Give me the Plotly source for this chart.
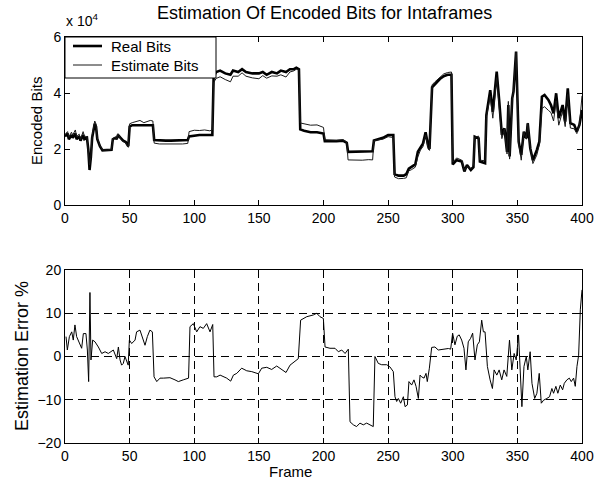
import plotly.graph_objects as go

# ---------------- data ----------------
frames_top = [0, 2, 3, 5, 6, 8, 9, 11, 12, 14, 15, 17, 18, 19, 20, 21, 23, 24, 25, 27, 29, 33, 36, 37, 39, 40,
              41, 43, 45, 47, 49, 50, 52, 55, 58, 61, 64, 66, 68, 69, 73, 78, 82, 86, 91, 95, 96, 100, 104, 108,
              112, 114, 115, 117, 120, 124, 128, 130, 134, 137, 140, 145, 150, 153, 156, 160, 164, 167, 171, 174,
              177, 179, 181, 182, 185, 190, 195, 200, 201, 205, 210, 215, 218, 219, 225, 230, 235, 238, 239, 242,
              246, 250, 254, 255, 258, 262, 264, 266, 268, 271, 273, 275, 277, 279, 281, 282, 284, 286, 288, 290,
              293, 296, 299, 300, 303, 307, 309, 311, 314, 316, 317, 320, 321, 325, 326, 329, 331, 334, 336, 338,
              340, 342, 343, 344, 346, 347, 349, 351, 353, 355, 357, 358, 360, 362, 365, 367, 369, 371, 374, 376,
              378, 380, 382, 385, 387, 389, 391, 394, 396, 398, 400]

real_bits = [24500, 25500, 23500, 25000, 24000, 25500, 23500, 24500, 23000, 25000, 23500, 24000, 20000, 12500,
             17000, 24000, 29000, 28000, 23500, 21000, 19500, 19500, 19700, 23500, 24000, 23500, 25000, 24000,
             23000, 22500, 21000, 28000, 28500, 28500, 28500, 28500, 28500, 28500, 28500, 23200, 23000, 23000,
             23000, 23000, 23000, 23200, 24500, 24800, 25000, 25000, 25000, 25000, 46000, 47500, 48000, 47000,
             46500, 48000, 47500, 48500, 47500, 47000, 47000, 47500, 46500, 47500, 47000, 48000, 47500, 48500,
             48500, 49000, 48500, 27000, 26500, 26000, 26000, 25500, 22800, 22700, 22800, 23000, 22200, 19000,
             19000, 19000, 19200, 19200, 23000, 23500, 24000, 25000, 25000, 11000, 10500, 10500, 11000, 13000,
             13500, 14500, 19000, 20500, 22000, 26000, 21000, 20000, 42000, 43000, 44000, 45000, 46000, 46500,
             46500, 14500, 16000, 15500, 12000, 14300, 12500, 13500, 24400, 23800, 15500, 14900, 32100, 41000,
             33300, 47600, 36900, 25000, 27400, 19000, 35700, 17300, 38100, 40500, 54800, 22600, 17900, 26200,
             23800, 29200, 20200, 16000, 19600, 22600, 38700, 39300, 37500, 35700, 32700, 39900, 31000, 35700,
             29800, 41700, 29200, 28600, 26200, 28600, 33900]

est_bits = [25200, 26200, 24200, 26000, 25000, 26800, 24500, 25300, 23400, 26200, 24600, 24400, 19000, 14300,
            17000, 24800, 30000, 28900, 24000, 21300, 19700, 19600, 19900, 23800, 24200, 23400, 25500, 23600,
            22700, 22200, 20600, 29000, 29400, 29800, 30200, 29400, 29800, 30200, 30000, 22100, 21800, 21800,
            21900, 21700, 21800, 22000, 26200, 26700, 26600, 26800, 26500, 26800, 43800, 45200, 45800, 44800,
            44000, 46000, 46000, 47200, 46000, 45400, 45100, 46200, 45300, 46100, 46000, 46500, 45700, 47500,
            47900, 48500, 48200, 29300, 28900, 28500, 28600, 27700, 23300, 23100, 23100, 23300, 22500, 16100,
            15900, 16000, 16200, 16100, 23000, 23100, 23500, 24400, 24100, 10000, 9400, 9500, 9700, 12200,
            12600, 13500, 17200, 19600, 20900, 25000, 20000, 19500, 42900, 43900, 44700, 45700, 46800, 47300,
            47500, 15300, 16800, 16000, 12300, 13800, 13000, 14200, 24200, 24600, 16000, 15800, 31300, 38800,
            31000, 45500, 35500, 23700, 27200, 18200, 37000, 16400, 37800, 40500, 54500, 22000, 16000, 26000,
            23500, 29300, 20500, 14800, 17800, 21500, 34500, 35100, 33800, 33000, 30000, 37200, 28500, 33500,
            28000, 39500, 27500, 27200, 25500, 28500, 39000]

frames_err = [0.8, 1.8, 3.4, 5.2, 6.4, 7.7, 9.0, 11.6, 12.9, 14.2, 16.2, 17.3, 18.3, 19.3, 20.1, 21.4, 23.2,
              25.8, 27.1, 28.4, 31.0, 33.5, 37.4, 40.0, 41.3, 42.6, 43.8, 45.1, 46.4, 47.7, 48.9, 49.8, 51.6,
              54.2, 55.4, 58.0, 60.6, 61.9, 63.7, 65.7, 67.6, 68.9, 71.0, 73.5, 76.1, 78.7, 81.2, 85.1, 87.7,
              91.5, 95.6, 96.7, 99.3, 101.9, 104.4, 107.0, 109.6, 112.2, 114.3, 115.3, 117.4, 120.0, 122.5,
              125.1, 128.2, 130.3, 132.9, 136.7, 140.6, 144.5, 149.6, 152.2, 156.1, 159.9, 163.8, 167.6, 171.0,
              174.1, 178.0, 180.5, 182.3, 187.0, 192.1, 194.7, 197.3, 199.9, 201.2, 205.0, 208.9, 211.5, 214.1,
              216.7, 219.2, 220.5, 223.1, 225.6, 228.2, 230.8, 233.4, 236.0, 238.5, 239.8, 242.4, 245.0, 248.9,
              251.4, 254.0, 255.3, 256.6, 257.9, 259.7, 261.8, 263.1, 264.9, 266.1, 268.2, 270.0, 271.6, 273.4,
              274.7, 275.9, 277.8, 279.3, 280.3, 281.9, 283.7, 286.2, 288.8, 292.7, 296.6, 298.4, 299.9, 301.7,
              303.5, 305.0, 306.9, 308.7, 310.2, 312.0, 313.8, 315.4, 317.2, 319.0, 320.6, 322.4, 323.7, 325.0,
              326.8, 328.9, 330.7, 332.0, 334.1, 335.9, 337.9, 339.7, 341.8, 343.9, 345.7, 347.5, 349.1, 350.9,
              352.2, 353.5, 355.1, 356.9, 358.1, 359.9, 361.3, 363.4, 365.1, 366.9, 368.5, 370.3, 372.8, 374.9,
              376.7, 378.0, 379.8, 381.3, 383.2, 385.0, 386.3, 388.3, 390.2, 391.7, 393.5, 394.8, 396.1, 397.4,
              398.7, 400.0]

error_pct = [4.6, 1.5, 4.6, 5.7, 3.8, 7.3, 4.6, 3.0, 1.9, 5.3, 5.3, 1.5, -5.8, 14.8, -0.8, 3.8, 3.4,
             2.2, 1.5, 0.7, 1.1, 0.7, 1.5, -0.5, 2.2, -0.8, -2.0, -1.6, 0.0, -1.2, -2.0, 3.8, 3.0,
             3.8, 5.7, 6.1, 3.4, 2.6, 4.6, 6.1, 5.7, -4.7, -5.8, -5.0, -5.0, -5.0, -4.9, -5.4, -5.8,
             -5.4, -5.0, 6.9, 7.6, 5.7, 6.9, 6.5, 7.6, 5.7, 7.4, -4.7, -4.7, -4.3, -4.7,
             -5.0, -5.7, -4.3, -3.9, -2.7, -3.3, -3.5, -4.0, -2.7, -2.5, -3.0, -2.2, -3.1, -3.7,
             -2.0, -1.2, -0.5, 8.4, 9.2, 9.6, 10.0, 9.2, 8.8, 2.2, 1.9, 1.9, 1.1, 1.5,
             0.7, 1.7, -15.1, -15.8, -16.2, -15.4, -15.8, -15.4, -15.8, -16.2, 0.0, -1.6, -1.9, -1.9,
             -2.4, -3.5, -9.3, -10.4, -9.7, -10.8, -9.3, -11.6, -11.2, -5.8, -6.6, -5.4, -6.9, -9.7,
             -4.3, -4.7, -5.0, -3.9, -5.8, -2.7, 2.1, 2.2, 1.5, 1.7, 1.85, 1.7, 5.4, 2.7,
             4.7, 5.0, 3.8, 1.9, -3.1, 3.4, 4.2, 5.4, -0.8, 2.7, 3.4, 8.4, 5.7, 5.7,
             -2.3, -5.4, -7.4, -3.1, -4.3, -3.1, -5.4, -3.1, -4.6, 3.8, -3.1, 0.7, -0.8, 5.0,
             -2.3, -11.6, -2.3, 0.0, -3.1, 1.1, -6.2, -9.7, -8.5, -3.9, -10.8, -10.1, -9.7, -9.3,
             -7.4, -8.5, -6.9, -8.5, -6.6, -7.7, -6.2, -5.4, -5.0, -5.8, -5.0, -6.9, -2.3, 0.3,
             10.8, 15.4]

x_ticks = [0, 50, 100, 150, 200, 250, 300, 350, 400]
top_y_ticks = [0, 20000, 40000, 60000]
top_y_labels = ["0", "2", "4", "6"]
err_ticks = [-20, -10, 0, 10, 20]

legend_names = ["Real Bits", "Estimate Bits"]
title_text = "Estimation Of Encoded Bits for Intaframes"
top_ylabel = "Encoded Bits"
bottom_ylabel = "Estimation Error %"
bottom_xlabel = "Frame"

# ---------------- figure ----------------
W, H = 601, 486
FONT = "Liberation Sans, Arial, Helvetica, sans-serif"


def px_x(x):
    return x / W


def px_y(y):
    return 1 - y / H


fig = go.Figure()
fig.add_trace(go.Scatter(x=frames_top, y=real_bits, mode="lines", name=legend_names[0],
                         line=dict(color="black", width=2.6), xaxis="x", yaxis="y", showlegend=False))
fig.add_trace(go.Scatter(x=frames_top, y=est_bits, mode="lines", name=legend_names[1],
                         line=dict(color="#1a1a1a", width=1), xaxis="x", yaxis="y", showlegend=False))
fig.add_trace(go.Scatter(x=frames_err, y=error_pct, mode="lines", name="Estimation Error",
                         line=dict(color="black", width=1), xaxis="x2", yaxis="y2", showlegend=False))

axis_common = dict(showline=True, linecolor="black", linewidth=1, mirror="ticks",
                   ticks="inside", ticklen=5, tickcolor="black", tickwidth=1, automargin=False,
                   zeroline=False, tickfont=dict(family=FONT, size=14, color="black"))

xdom = [px_x(65), px_x(582)]
fig.update_layout(
    template="none",
    width=W, height=H, autosize=False,
    margin=dict(l=0, r=0, t=0, b=0, pad=0),
    paper_bgcolor="white", plot_bgcolor="white",
    font=dict(family=FONT, color="black"),
    showlegend=False,
    xaxis=dict(domain=xdom, anchor="y", range=[0, 400], tickvals=x_ticks, showgrid=False,
               ticklabelstandoff=0, **axis_common),
    yaxis=dict(domain=[px_y(205), px_y(37)], anchor="x", range=[0, 60000], tickvals=top_y_ticks,
               ticktext=top_y_labels, showgrid=False, ticklabelstandoff=0, **axis_common),
    xaxis2=dict(domain=xdom, anchor="y2", range=[0, 400], tickvals=x_ticks, showgrid=True,
                gridcolor="black", gridwidth=1, griddash="8px,5px", ticklabelstandoff=0, **axis_common),
    yaxis2=dict(domain=[px_y(443), px_y(270)], anchor="x2", range=[-20, 20], tickvals=err_ticks,
                showgrid=True, gridcolor="black", gridwidth=1, griddash="8px,5px",
                ticklabelstandoff=0, **axis_common),
)

# legend box (drawn like the MATLAB legend, attached to the top-left corner of the upper axes)
shapes = [
    dict(type="rect", xref="paper", yref="paper", x0=px_x(65), x1=px_x(216), y0=px_y(78), y1=px_y(37),
         line=dict(color="black", width=1), fillcolor="white", layer="above"),
    dict(type="line", xref="paper", yref="paper", x0=px_x(73), x1=px_x(102), y0=px_y(46), y1=px_y(46),
         line=dict(color="black", width=2.6), layer="above"),
    dict(type="line", xref="paper", yref="paper", x0=px_x(73), x1=px_x(102), y0=px_y(65), y1=px_y(65),
         line=dict(color="#1a1a1a", width=1), layer="above"),
]
fig.update_layout(shapes=shapes)

ann = [
    dict(text=legend_names[0], x=px_x(109), y=px_y(46), xref="paper", yref="paper",
         xanchor="left", yanchor="middle", showarrow=False,
         font=dict(family=FONT, size=15, color="black")),
    dict(text=legend_names[1], x=px_x(109), y=px_y(65), xref="paper", yref="paper",
         xanchor="left", yanchor="middle", showarrow=False,
         font=dict(family=FONT, size=15, color="black")),
    dict(text=title_text, x=px_x(324), y=px_y(13), xref="paper", yref="paper",
         xanchor="center", yanchor="middle", showarrow=False,
         font=dict(family=FONT, size=18, color="black")),
    dict(text="x 10<sup>4</sup>", x=px_x(64), y=px_y(20), xref="paper", yref="paper",
         xanchor="left", yanchor="middle", showarrow=False,
         font=dict(family=FONT, size=14, color="black")),
    dict(text=top_ylabel, x=px_x(36), y=px_y(121), xref="paper", yref="paper",
         xanchor="center", yanchor="middle", textangle=-90, showarrow=False,
         font=dict(family=FONT, size=15, color="black")),
    dict(text=bottom_ylabel, x=px_x(22), y=px_y(356), xref="paper", yref="paper",
         xanchor="center", yanchor="middle", textangle=-90, showarrow=False,
         font=dict(family=FONT, size=18, color="black")),
    dict(text=bottom_xlabel, x=px_x(290), y=px_y(471), xref="paper", yref="paper",
         xanchor="center", yanchor="middle", showarrow=False,
         font=dict(family=FONT, size=15, color="black")),
]
fig.update_layout(annotations=ann)

fig.write_html("out.html", config={"displayModeBar": False},
               post_script="document.body.style.margin='0px';document.body.style.padding='0px';")
